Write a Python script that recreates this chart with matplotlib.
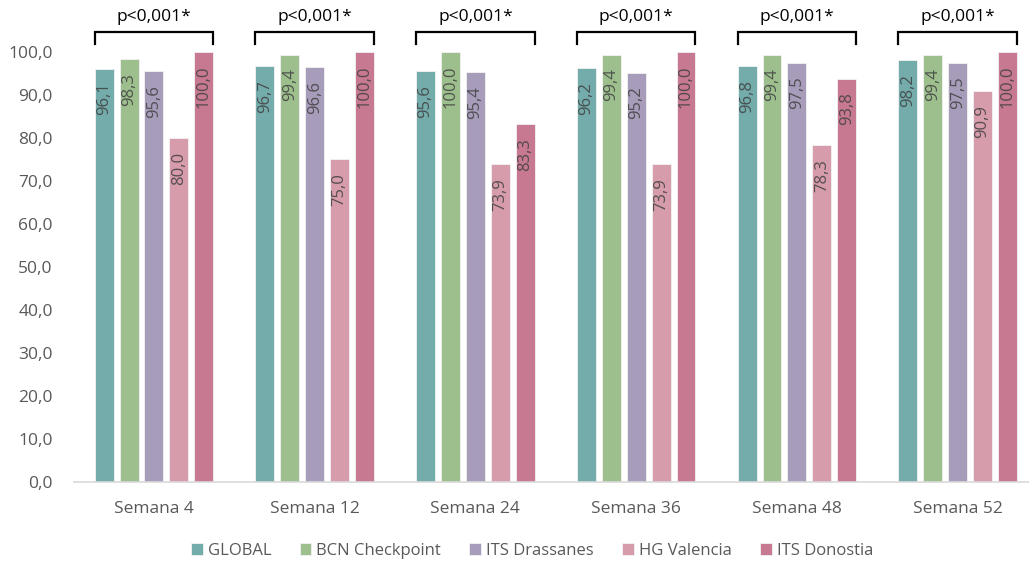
import numpy as np
import matplotlib.pyplot as plt
from matplotlib.ticker import FuncFormatter

semanas = ['Semana 4', 'Semana 12', 'Semana 24', 'Semana 36', 'Semana 48', 'Semana 52']
centros = ['GLOBAL', 'BCN Checkpoint', 'ITS Drassanes', 'HG Valencia', 'ITS Donostia']
global_ = [96.1, 96.7, 95.6, 96.2, 96.8, 98.2]
bcn = [98.3, 99.4, 100.0, 99.4, 99.4, 99.4]
drassanes = [95.6, 96.6, 95.4, 95.2, 97.5, 97.5]
valencia = [80.0, 75.0, 73.9, 73.9, 78.3, 90.9]
donostia = [100.0, 100.0, 83.3, 100.0, 93.8, 100.0]
p_valor = 'p<0,001*'

series = [global_, bcn, drassanes, valencia, donostia]
colores = ['#74abab', '#9dbf8e', '#a79dbb', '#d69cab', '#c67990']

plt.rcParams['font.family'] = ['Open Sans', 'DejaVu Sans']

fig = plt.figure(figsize=(10.29, 5.62), dpi=100)
ax = fig.add_axes([73.6 / 1029, 1 - 482 / 562, 1 - 73.6 / 1029, 430 * 1.1 / 562])

x = np.arange(len(semanas))
paso = 0.155
ancho = 0.118
for i, (vals, col, nombre) in enumerate(zip(series, colores, centros)):
    pos = x + (i - 2) * paso
    ax.bar(pos, vals, width=ancho, color=col, label=nombre,
           edgecolor='#f2f2f2', linewidth=0.6)
    for xp, v in zip(pos, vals):
        ax.annotate(f'{v:.1f}'.replace('.', ','), (xp, v), xytext=(0, -10),
                    textcoords='offset points', rotation=90, ha='center', va='top',
                    fontsize=12, color='#404040', alpha=0.85)

# corchetes con el p-valor de cada semana
for xc in x:
    x0 = xc - 2 * paso - ancho / 2
    x1 = xc + 2 * paso + ancho / 2
    ax.plot([x0, x0, x1, x1], [101.9, 104.7, 104.7, 101.9], color='black',
            lw=1.6, clip_on=False, solid_joinstyle='miter')
    ax.text(xc, 106.3, p_valor, ha='center', va='bottom', fontsize=12.5, color='black')

ax.set_xlim(-0.5, 5.5 - 9 / 160.8)
ax.set_ylim(0, 110)
ax.set_yticks(np.arange(0, 101, 10))
ax.yaxis.set_major_formatter(FuncFormatter(lambda v, _: f'{v:.1f}'.replace('.', ',')))
ax.set_xticks(x)
ax.set_xticklabels(semanas)
ax.tick_params(axis='both', length=0, labelsize=12.5, labelcolor='#595959')
ax.tick_params(axis='x', pad=14)
ax.tick_params(axis='y', pad=15)
for s in ['top', 'right', 'left']:
    ax.spines[s].set_visible(False)
ax.spines['bottom'].set_color('#d9d9d9')
ax.spines['bottom'].set_linewidth(1.2)

ax.legend(loc='center', bbox_to_anchor=(0.517, 0.02), bbox_transform=fig.transFigure,
          ncol=5, frameon=False, fontsize=12, handlelength=0.7, handleheight=0.7,
          handletextpad=0.3, columnspacing=1.7, labelcolor='#595959')

fig.savefig('out.png', dpi=100)
